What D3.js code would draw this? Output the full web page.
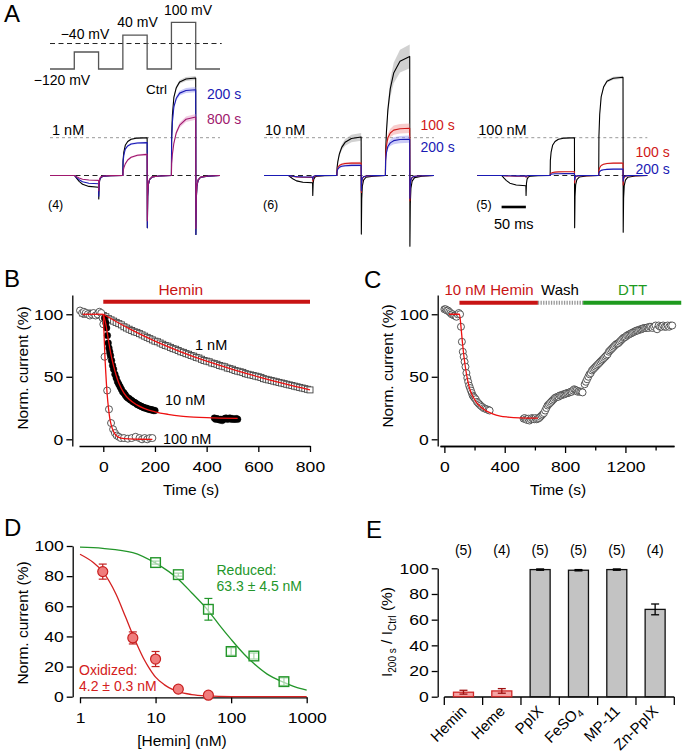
<!DOCTYPE html>
<html><head><meta charset="utf-8">
<script src="https://cdn.jsdelivr.net/npm/d3@7"></script>
<style>body{margin:0;background:#fff}svg{display:block}</style>
</head><body>
<svg id="c" width="685" height="753"></svg>
<script>
// ================= DATA =================
// ---- Panel A ----
const protoVoltages = [-120, -40, -120, 40, -120, 100, -120];
const aConc = ["1 nM", "10 nM", "100 nM"];
const aCounts = ["(4)", "(6)", "(5)"];
const aTraceNames = [["Ctrl","200 s","800 s"],["Ctrl","100 s","200 s"],["Ctrl","100 s","200 s"]];
const aStepNeg40 = [[-0.31,-0.22,-0.13],[-0.19,-0.05,-0.04],[-0.27,-0.02,-0.01]];
const aStep40 = [[1.0,0.87,0.56],[1.02,0.33,0.27],[1.0,0.10,0.05]];
const aStep100 = [[2.58,2.27,1.55],[3.15,1.25,0.96],[2.6,0.33,0.17]];
const aTailNeg40 = [[-0.62,-0.55,-0.4],[-0.53,-0.15,-0.1],[-0.53,-0.05,-0.03]];
const aTail40 = [[-1.38,-1.38,-1.2],[-1.55,-0.45,-0.4],[-1.38,-0.2,-0.12]];
const aTail100 = [[-1.56,-1.56,-1.4],[-1.87,-0.67,-0.6],[-1.5,-0.25,-0.15]];
const aKinetics = [["fast","fast","slow"],["slow","fast","fast"],["fast","fast","fast"]];
const aSem = [[0.02,0.03,0.05],[0.1,0.1,0.1],[0.015,0.06,0.1]];
const stepOnsets = [50,150,250];   // ms
const stepDur = 50, sweepDur = 350;
const actTimes = [0, 0.4, 2, 5, 10, 17, 30, 50];
const actFast = [0, 0.4, 0.62, 0.8, 0.9, 0.96, 0.99, 1];
const actSlow = [0, 0.2, 0.36, 0.55, 0.73, 0.86, 0.96, 1];
const inwardShape = [0, 0, 0.08, 0.25, 0.5, 0.75, 0.93, 1];
const tailTimes = [0.4, 1.2, 2.5, 5, 10, 25, 50];
const tailShape = [1, 0.4, 0.18, 0.08, 0.03, 0.01, 0];

// ---- Panel B ----
const b1nM = [[-80,101],[-70,100],[-60,101],[-50,100],[-40,100.5],[-30,99.5],[-20,100],[-10,99.5],[0,99],
[10,98],[20,96.5],[30,95.5],[40,94.5],[50,93.5],[60,92.5],[70,91.5],[80,90],[90,89],[100,88],
[110,87],[120,86],[130,85.5],[140,84.5],[150,83.5],[160,82.5],[170,81.5],[180,80.5],[190,79.5],[200,78.5],
[210,78],[220,77],[230,76],[240,75],[250,74.5],[260,73.5],[270,72.5],[280,72],[290,71],[300,70],
[310,69.5],[320,68.5],[330,68],[340,67],[350,66.5],[360,65.5],[370,65],[380,64],[390,63],[400,62.5],
[410,62],[420,61],[430,60.5],[440,60],[450,59],[460,58.5],[470,58],[480,57],[490,56.5],[500,56],
[510,55],[520,54.5],[530,54],[540,53.5],[550,52.5],[560,52],[570,51.5],[580,51],[590,50.5],[600,50],
[610,49.5],[620,48.5],[630,48],[640,47.5],[650,47],[660,46.5],[670,46],[680,45.5],[690,45],[700,44.5],
[710,44],[720,43.5],[730,43],[740,42.5],[750,42],[760,41.5],[770,41],[780,40.5],[790,40],[800,39.5]];
const b10nM = [[5,97],[10,93],[13,89],[16,83],[19,77],[22,73],[25,70],[28,67],[32,63],[36,59],[40,56],[45,52],[50,49],[55,46],[60,44],[65,42],[70,40],[75,38],[80,37],[85,35.5],[90,34],[95,33],[100,32.5],[105,31.5],[110,31],[115,30],[120,29.5],[125,29],[130,28],[135,27.5],[140,27],[145,26.5],[150,26],[155,25.5],[160,25],[165,25],[170,24.5],[175,24],[180,24],[185,23.5],[190,23.5],[195,23],[200,23],
[430,17],[435,16],[440,16.5],[445,16],[450,15.5],[455,16],[460,15],[465,16],[470,16.5],[475,17],[480,16],[485,16.5],[490,17],[495,16],[500,16.5],[505,16],[510,16],[515,16.5],[520,16]];
const b100nM = [[-90,103],[-82,101],[-75,102],[-68,101],[-60,100],[-52,99],[-45,100],[-38,101],[-30,99],[-22,100],[-15,102],[-8,101],[-3,97],[0,92],[5,66],[15,39],[22,24],[30,13],[38,8],[45,5],[52,3],[60,2],[68,1],[80,1],[95,0.5],[110,1],[125,2],[140,1],[150,0],[160,1],[170,0],[180,1],[190,1]];
const bFitPre = [[-80,100],[0,100]];
const bFit1nM = [[0,100],[100,88.5],[200,78.5],[300,70],[400,62.5],[500,56],[600,50],[700,44.5],[800,39.5]];
const bFit10nM = [[0,100],[10,92],[20,79],[30,67.5],[40,58.5],[50,51],[60,45],[80,37],[100,32],[130,27.5],[160,24.5],[200,22],[250,20],[300,18.6],[350,17.8],[400,17.3],[450,17],[520,16.8]];
const bFit100nM = [[0,100],[3,84],[6,68],[10,52],[15,36],[20,25],[25,17],[30,12],[40,6],[50,3],[60,1.5],[80,0.5],[120,0.1],[190,0]];
const bTicksX = [0,200,400,600,800];
const bTicksY = [0,50,100];
const bHeminPeriod = [0,800];

// ---- Panel C ----
const cData = [[0,104],[8,104],[16,103],[24,103],[32,102],[40,101],[48,100],[56,100],[64,99],[72,99],[80,98],[88,100],[96,101],[104,100],
[110,90],[116,78],[122,70],[128,66],[134,62],[140,58],[146,53],[152,49],[158,46],[164,43],[170,41],[176,39],[182,37],[188,35],[194,34],[200,33],[208,32],[216,30],[224,29],[232,28],[240,27],[250,26],[260,25],[270,24.5],[280,24],[292,23.5],[300,23],
[525,16.5],[532,17],[540,16],[548,15.5],[556,16.5],[564,15],[572,16],[580,17],[588,16.5],[596,16],[604,17],[612,16],[620,16.5],[628,17],[636,18],[644,19],[652,20],[660,21],[668,23],[676,25],[684,27],[692,28],[700,29],[708,30],[716,31],[724,32],[732,33],[740,33.5],[748,34],[756,34],[764,35],[772,35],[780,35.5],[788,36],[796,36],[804,36.5],[812,37],[820,37],[828,37.5],[836,38],[844,38],[852,39],[860,40],[868,39.5],[876,39],[884,38],[892,38.5],[900,38],[908,38],[916,37.5],
[930,44],[938,46],[946,48],[954,50],[962,52],[970,53],[978,55],[986,56],[994,57],[1002,58],[1010,59],[1018,60],[1026,61],[1034,62],[1042,63],[1050,64],[1058,65],[1066,66],[1074,67],[1082,68],[1090,70],[1098,71],[1106,72],[1114,73],[1122,74],[1130,75],[1138,76],[1146,76.5],[1154,77],[1162,78],[1170,79],[1178,80],[1186,81],[1194,81.5],[1202,82],[1210,83],[1218,83.5],[1226,84],[1234,84.5],[1242,85],[1250,85.5],[1258,86],[1266,86.5],[1274,87],[1282,87],[1290,87.5],[1298,88],[1306,88],[1314,88.5],[1322,89],[1330,89],[1338,89],[1346,89.5],[1354,89],[1362,90],[1370,90],[1380,89],[1390,90],[1400,91],[1410,88],[1420,91],[1430,90],[1440,90],[1450,91],[1460,90],[1470,90],[1480,91],[1490,90],[1500,91],[1510,91]];
const cFit = [[30,100],[100,100],[110,90],[120,77],[130,66],[140,57],[150,50],[160,44],[175,38],[190,34],[210,30],[240,26],[280,22.5],[320,20.3],[370,18.6],[420,17.8],[500,17.2],[620,17]];
const cTicksMajor = [0,400,800,1200];
const cTicksMinor = [200,600,1000,1400];
const cPeriods = [["10 nM Hemin",100,620],["Wash",620,920],["DTT",920,1570]];

// ---- Panel D ----
const dOxX = [2,5,10,20,50];
const dOxY = [83,39,25,5,1];
const dOxErr = [5,4,5,1,0.5];
const dRedX = [10,20,50,100,200,500];
const dRedY = [89,81,58,30,27,10];
const dRedErr = [1,1,7.2,2.5,2,2.5];
const dOxFit = [[1,94.5],[1.5,89],[2,83],[3,68],[4,53],[5,41],[6,32],[7,25],[8,20],[10,13],[13,8],[15,6],[20,3.3],[30,1.4],[50,0.5],[100,0.1],[300,0],[1000,0]];
const dRedFit = [[1,99.2],[2,98.4],[5,95.6],[10,88.6],[20,78],[30,69],[50,57],[70,47.5],[100,38],[150,28],[200,22],[300,15],[500,9.5],[700,6.5],[1000,4.4]];
const dTicksX = [1,10,100,1000];
const dTicksY = [0,20,40,60,80,100];

// ---- Panel E ----
const eCats = ["Hemin","Heme","PpIX","FeSO4","MP-11","Zn-PpIX"];
const eVals = [3.5,4.5,99,98.5,99,68];
const eErr = [1.5,1.8,0.5,0.5,0.5,4.2];
const eN = ["(5)","(4)","(5)","(5)","(5)","(4)"];
const eTicksY = [0,20,40,60,80,100];

// ================= DRAW =================
const FONT = '"Liberation Sans", Arial, Helvetica, sans-serif';
const svg = d3.select("#c").attr("font-family", FONT);
const RED = "#d01818", BLUE = "#1a1ab4", PURPLE = "#a0186e", GREEN = "#23962a";

function txt(x, y, s, o = {}) {
  const t = svg.append("text").attr("x", x).attr("y", y).text(s)
    .attr("font-size", o.size || 15).attr("fill", o.color || "#000")
    .attr("text-anchor", o.anchor || "start");
  return t;
}
function widen(sel, k) {
  sel.each(function () {
    const w = this.getComputedTextLength();
    if (w > 0) d3.select(this).attr("textLength", w * k).attr("lengthAdjust", "spacingAndGlyphs");
  });
}
function styleAxis(g, fs = 15) {
  g.select("path.domain").attr("stroke", "#000").attr("stroke-width", 1.3);
  g.selectAll(".tick line").attr("stroke", "#000").attr("stroke-width", 1.3);
  g.selectAll(".tick text").attr("font-family", FONT).attr("font-size", fs).attr("fill", "#000");
  widen(g.selectAll(".tick text"), 1.17);
  return g;
}

// panel letters
[["A",4,22],["B",4,287],["C",364,288],["D",4,536],["E",366,538]].forEach(([l,x,y]) =>
  txt(x, y, l, {size: 24}));

// ---------- Panel A ----------
const xA0 = [50, 264, 477.3];
const yA = d3.scaleLinear().domain([0, 1]).range([175.5, 137.7]);
const yV = d3.scaleLinear().domain([-120, 100]).range([69, 22.3]);
const xProto = d3.scaleLinear().domain([0, sweepDur]).range([50, 220]);

svg.append("line").attr("x1", 50).attr("x2", 221.7).attr("y1", yV(0)).attr("y2", yV(0))
  .attr("stroke", "#222").attr("stroke-width", 1).attr("stroke-dasharray", "5,3.5");
const protoPts = protoVoltages.map((v, i) => [i * stepDur, v]).concat([[sweepDur, protoVoltages[protoVoltages.length-1]]]);
svg.append("path").attr("d", d3.line().x(d => xProto(d[0])).y(d => yV(d[1])).curve(d3.curveStepAfter)(protoPts))
  .attr("fill", "none").attr("stroke", "#555").attr("stroke-width", 1.3);
txt(62, 85, "−120 mV", {size: 14, anchor: "middle"});
txt(85, 39, "−40 mV", {size: 14, anchor: "middle"});
txt(137.5, 26.5, "40 mV", {size: 14, anchor: "middle"});
txt(188, 15, "100 mV", {size: 14, anchor: "middle"});

function tracePts(p, k) {
  const pts = [[0, 0]];
  const amps = [aStepNeg40[p][k], aStep40[p][k], aStep100[p][k]];
  const tails = [aTailNeg40[p][k], aTail40[p][k], aTail100[p][k]];
  const shape = aKinetics[p][k] === "fast" ? actFast : actSlow;
  stepOnsets.forEach((t0, i) => {
    const sh = i === 0 ? inwardShape : shape;
    actTimes.forEach((dt, j) => pts.push([t0 + dt, amps[i] * sh[j]]));
    tailTimes.forEach((dt, j) => pts.push([t0 + stepDur + dt, tails[i] * tailShape[j]]));
  });
  pts.push([sweepDur, 0]);
  return pts;
}
const traceColors = [["#000", BLUE, PURPLE], ["#000", RED, BLUE], ["#000", RED, BLUE]];
const shadeColors = { "#000": "#999", [BLUE]: "#8c8cf0", [PURPLE]: "#e08cc0", [RED]: "#f09090" };

aConc.forEach((conc, p) => {
  const xA = d3.scaleLinear().domain([0, sweepDur]).range([xA0[p], xA0[p] + 170]);
  svg.append("line").attr("x1", xA(0)).attr("x2", xA(sweepDur)).attr("y1", yA(1)).attr("y2", yA(1))
    .attr("stroke", "#999").attr("stroke-width", 1).attr("stroke-dasharray", "3,3");
  svg.append("line").attr("x1", xA(0)).attr("x2", xA(sweepDur)).attr("y1", yA(0)).attr("y2", yA(0))
    .attr("stroke", "#222").attr("stroke-width", 1).attr("stroke-dasharray", "5,3.5");
  [0, 1, 2].forEach(k => {
    const pts = tracePts(p, k);
    const s = aSem[p][k];
    const col = traceColors[p][k];
    svg.append("path")
      .attr("d", d3.area().x(d => xA(d[0])).y0(d => yA(d[1] * (1 - s))).y1(d => yA(d[1] * (1 + s)))(pts))
      .attr("fill", shadeColors[col]).attr("opacity", 0.45).attr("stroke", "none");
    svg.append("path").attr("d", d3.line().x(d => xA(d[0])).y(d => yA(d[1]))(pts))
      .attr("fill", "none").attr("stroke", col).attr("stroke-width", 1.1).attr("stroke-linejoin", "round");
  });
  txt(xA(0) + 2 - (p === 0 ? 0 : 1), 134.5, conc, {size: 14.5});
  txt(xA(0) - 2 + (p === 0 ? 0 : 1), 208.5, aCounts[p], {size: 12.5});
});
txt(156.5, 94, aTraceNames[0][0], {size: 13.5, anchor: "middle"});
txt(207, 98.5, aTraceNames[0][1], {size: 14, color: BLUE});
txt(207, 124, aTraceNames[0][2], {size: 14, color: PURPLE});
txt(420.5, 130, aTraceNames[1][1], {size: 14, color: RED});
txt(420.5, 152, aTraceNames[1][2], {size: 14, color: BLUE});
txt(635.5, 157, aTraceNames[2][1], {size: 14, color: RED});
txt(635.5, 173.5, aTraceNames[2][2], {size: 14, color: BLUE});
{
  const xA = d3.scaleLinear().domain([0, sweepDur]).range([xA0[2], xA0[2] + 170]);
  svg.append("line").attr("x1", xA(50)).attr("x2", xA(100)).attr("y1", 207).attr("y2", 207)
    .attr("stroke", "#000").attr("stroke-width", 2.6);
  txt((xA(50) + xA(100)) / 2, 228.5, "50 ms", {size: 14.5, anchor: "middle"});
}

// ---------- Panel B ----------
const bX = d3.scaleLinear().domain([-94, 800]).range([79, 310]);
const bY = d3.scaleLinear().domain([-5.36, 115.4]).range([446, 295]);
styleAxis(svg.append("g").attr("transform", "translate(72.3,0)")
  .call(d3.axisLeft(bY).tickValues(bTicksY).tickSize(6).tickSizeOuter(0).tickPadding(3)));
styleAxis(svg.append("g").attr("transform", "translate(0,446)")
  .call(d3.axisBottom(bX).tickValues(bTicksX).tickSize(6).tickSizeOuter(0).tickPadding(9)));
txt(0, 0, "Norm. current (%)", {size: 15.5, anchor: "middle"})
  .attr("transform", "translate(28,368) rotate(-90)");
txt(191, 495, "Time (s)", {size: 15.5, anchor: "middle"});
svg.append("line").attr("x1", bX(bHeminPeriod[0])).attr("x2", bX(bHeminPeriod[1])).attr("y1", 301.7).attr("y2", 301.7)
  .attr("stroke", "#c81414").attr("stroke-width", 4);
txt(bX(300), 295, "Hemin", {size: 15.5, color: "#c81414", anchor: "middle"});
svg.append("g").selectAll("rect").data(b1nM).join("rect")
  .attr("x", d => bX(d[0]) - 3).attr("y", d => bY(d[1]) - 3).attr("width", 6).attr("height", 6)
  .attr("fill", "#fff").attr("stroke", "#444").attr("stroke-width", 0.9);
svg.append("g").selectAll("circle").data(b100nM).join("circle")
  .attr("cx", d => bX(d[0])).attr("cy", d => bY(d[1])).attr("r", 3.5)
  .attr("fill", "#fff").attr("stroke", "#444").attr("stroke-width", 0.9);
svg.append("g").selectAll("circle").data(b10nM).join("circle")
  .attr("cx", d => bX(d[0])).attr("cy", d => bY(d[1])).attr("r", 3.3)
  .attr("fill", "#000").attr("stroke", "#000").attr("stroke-width", 0.5);
const bLine = d3.line().x(d => bX(d[0])).y(d => bY(d[1])).curve(d3.curveMonotoneX);
[bFitPre, bFit1nM, bFit10nM, bFit100nM].forEach(f =>
  svg.append("path").attr("d", bLine(f)).attr("fill", "none").attr("stroke", "#ee1111").attr("stroke-width", 1.3));
txt(195, 350, "1 nM", {size: 14.5});
txt(165, 405, "10 nM", {size: 14.5});
txt(163, 443.5, "100 nM", {size: 14.5});

// ---------- Panel C ----------
const cX = d3.scaleLinear().domain([-29, 1522]).range([440, 674]);
const cY = d3.scaleLinear().domain([-5.36, 115.4]).range([446, 295]);
styleAxis(svg.append("g").attr("transform", "translate(437.7,0)")
  .call(d3.axisLeft(cY).tickValues(bTicksY).tickSize(6).tickSizeOuter(0).tickPadding(3)));
styleAxis(svg.append("g").attr("transform", "translate(0,446)")
  .call(d3.axisBottom(cX).tickValues(cTicksMajor).tickFormat(d3.format("d")).tickSize(7).tickSizeOuter(0).tickPadding(8)));
styleAxis(svg.append("g").attr("transform", "translate(0,446)")
  .call(d3.axisBottom(cX).tickValues(cTicksMinor).tickSize(4.5).tickSizeOuter(0).tickFormat(() => "")));
txt(0, 0, "Norm. current (%)", {size: 15.5, anchor: "middle"})
  .attr("transform", "translate(393,366) rotate(-90)");
txt(558, 495, "Time (s)", {size: 15.5, anchor: "middle"});
const periodStyles = [["#c81414", null], ["#999", "1.3,1.3"], ["#1e9a1e", null]];
cPeriods.forEach(([lab, t0, t1], i) => {
  svg.append("line").attr("x1", cX(t0)).attr("x2", cX(t1)).attr("y1", 302.7).attr("y2", 302.7)
    .attr("stroke", periodStyles[i][0]).attr("stroke-width", 4)
    .attr("stroke-dasharray", periodStyles[i][1]);
});
txt(489, 295, cPeriods[0][0], {size: 15, color: "#c81414", anchor: "middle"});
txt(560, 295, cPeriods[1][0], {size: 15, color: "#000", anchor: "middle"});
txt(632.5, 295, cPeriods[2][0], {size: 15, color: "#1e9a1e", anchor: "middle"});
svg.append("g").selectAll("circle").data(cData).join("circle")
  .attr("cx", d => cX(d[0])).attr("cy", d => cY(d[1])).attr("r", 3.5)
  .attr("fill", "#fff").attr("stroke", "#444").attr("stroke-width", 0.9);
svg.append("path").attr("d", d3.line().x(d => cX(d[0])).y(d => cY(d[1])).curve(d3.curveMonotoneX)(cFit))
  .attr("fill", "none").attr("stroke", "#ee1111").attr("stroke-width", 1.3);

// ---------- Panel D ----------
const dX = d3.scaleLog().domain([1, 1000]).range([80, 306.7]);
const dY = d3.scaleLinear().domain([0, 100]).range([696.7, 546]);
styleAxis(svg.append("g").attr("transform", "translate(72.7,0)")
  .call(d3.axisLeft(dY).tickValues(dTicksY).tickSize(6).tickSizeOuter(0).tickPadding(3)));
styleAxis(svg.append("g").attr("transform", "translate(0,697.3)")
  .call(d3.axisBottom(dX).tickValues(dTicksX).tickFormat(d3.format("d")).tickSize(6).tickSizeOuter(0).tickPadding(9)));
txt(0, 0, "Norm. current (%)", {size: 15.5, anchor: "middle"})
  .attr("transform", "translate(28,623) rotate(-90)");
txt(182, 746, "[Hemin] (nM)", {size: 15.5, anchor: "middle"});
const dLine = d3.line().x(d => dX(d[0])).y(d => dY(d[1])).curve(d3.curveMonotoneX);
svg.append("path").attr("d", dLine(dRedFit)).attr("fill", "none").attr("stroke", GREEN).attr("stroke-width", 1.3);
svg.append("path").attr("d", dLine(dOxFit)).attr("fill", "none").attr("stroke", "#d42020").attr("stroke-width", 1.3);
function errBars(xs, ys, es, col) {
  xs.forEach((x, i) => {
    const cx = dX(x), y0 = dY(ys[i] - es[i]), y1 = dY(ys[i] + es[i]);
    svg.append("line").attr("x1", cx).attr("x2", cx).attr("y1", y0).attr("y2", y1).attr("stroke", col).attr("stroke-width", 1.2);
    [y0, y1].forEach(y => svg.append("line").attr("x1", cx - 4).attr("x2", cx + 4).attr("y1", y).attr("y2", y).attr("stroke", col).attr("stroke-width", 1.2));
  });
}
errBars(dRedX, dRedY, dRedErr, GREEN);
errBars(dOxX, dOxY, dOxErr, "#c02020");
svg.append("g").selectAll("rect").data(dRedX.map((x, i) => [x, dRedY[i]])).join("rect")
  .attr("x", d => dX(d[0]) - 4.8).attr("y", d => dY(d[1]) - 4.8).attr("width", 9.6).attr("height", 9.6)
  .attr("fill", "#fff").attr("fill-opacity", 0.6).attr("stroke", GREEN).attr("stroke-width", 1.4);
svg.append("g").selectAll("circle").data(dOxX.map((x, i) => [x, dOxY[i]])).join("circle")
  .attr("cx", d => dX(d[0])).attr("cy", d => dY(d[1])).attr("r", 5)
  .attr("fill", "#f07c7c").attr("stroke", "#c82020").attr("stroke-width", 1.2);
txt(216.5, 575, "Reduced:", {size: 14, color: GREEN});
txt(216.5, 591, "63.3 ± 4.5 nM", {size: 14, color: GREEN});
txt(79, 675, "Oxidized:", {size: 14, color: "#d42020"});
txt(79, 691, "4.2 ± 0.3 nM", {size: 14, color: "#d42020"});

// ---------- Panel E ----------
const eX = d3.scaleBand().domain(eCats).range([444.3, 674.3]).padding(0);
const eY = d3.scaleLinear().domain([0, 100]).range([696.7, 568.3]);
styleAxis(svg.append("g").attr("transform", "translate(437.7,0)")
  .call(d3.axisLeft(eY).tickValues(eTicksY).tickSize(6).tickSizeOuter(0).tickPadding(3)));
const eAxisG = svg.append("g");
eAxisG.append("line").attr("x1", eX.range()[0]).attr("x2", eX.range()[1]).attr("y1", 697).attr("y2", 697)
  .attr("stroke", "#000").attr("stroke-width", 1.3);
const boundaries = eCats.map(c => eX(c)).concat([eX.range()[1]]);
eAxisG.selectAll("line.tk").data(boundaries).join("line").attr("class", "tk")
  .attr("x1", d => d).attr("x2", d => d).attr("y1", 697).attr("y2", 705)
  .attr("stroke", "#000").attr("stroke-width", 1.3);
const barW = 20;
eCats.forEach((c, i) => {
  const cx = eX(c) + eX.bandwidth() / 2;
  const red = i < 2;
  svg.append("rect").attr("x", cx - barW / 2).attr("y", eY(eVals[i])).attr("width", barW)
    .attr("height", eY(0) - eY(eVals[i]))
    .attr("fill", red ? "#f5a3a3" : "#c3c3c3").attr("stroke", red ? "#d02828" : "#111").attr("stroke-width", 1.3);
  const ec = red ? "#a01010" : "#000";
  const y0 = eY(eVals[i] - eErr[i]), y1 = eY(eVals[i] + eErr[i]);
  svg.append("line").attr("x1", cx).attr("x2", cx).attr("y1", y0).attr("y2", y1).attr("stroke", ec).attr("stroke-width", 1.3);
  [y0, y1].forEach(y => svg.append("line").attr("x1", cx - 4).attr("x2", cx + 4).attr("y1", y).attr("y2", y).attr("stroke", ec).attr("stroke-width", 1.3));
  txt(cx, 554.5, eN[i], {size: 14, anchor: "middle"});
  const lt = svg.append("text").attr("text-anchor", "end").attr("font-size", 15)
    .attr("transform", `translate(${cx + 4},${712}) rotate(-45)`);
  if (c === "FeSO4") {
    lt.append("tspan").text("FeSO");
    lt.append("tspan").text("4").attr("font-size", 10).attr("dy", 3);
  } else lt.text(c);
});
{
  const yl = svg.append("text").attr("text-anchor", "middle").attr("font-size", 15.5)
    .attr("transform", "translate(392,632) rotate(-90)");
  yl.append("tspan").text("I");
  yl.append("tspan").text("200 s").attr("font-size", 10).attr("dy", 4);
  yl.append("tspan").text(" / I").attr("dy", -4);
  yl.append("tspan").text("Ctrl").attr("font-size", 10).attr("dy", 4);
  yl.append("tspan").text(" (%)").attr("dy", -4);
}
</script>
</body></html>
